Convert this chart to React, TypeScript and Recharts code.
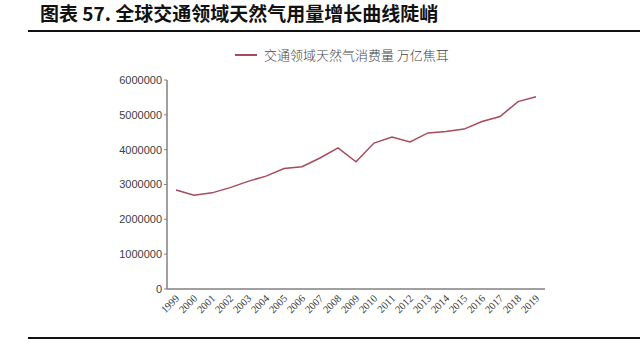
import { Line, LineChart, XAxis, YAxis } from "recharts";

const years = [
  "1999", "2000", "2001", "2002", "2003", "2004", "2005", "2006", "2007", "2008", "2009",
  "2010", "2011", "2012", "2013", "2014", "2015", "2016", "2017", "2018", "2019",
];
const consumption = [
  2840000, 2690000, 2760000, 2910000, 3090000, 3240000, 3460000, 3510000, 3760000, 4050000, 3650000,
  4190000, 4360000, 4220000, 4480000, 4520000, 4590000, 4810000, 4950000, 5380000, 5520000,
];
const yTicks = [0, 1000000, 2000000, 3000000, 4000000, 5000000, 6000000];

const TITLE = "图表 57. 全球交通领域天然气用量增长曲线陡峭";
const SERIES = "交通领域天然气消费量 万亿焦耳";
const LINE_COLOR = "#a84a5c";

const data = years.map((year, i) => ({ year, value: consumption[i] }));

function YearTick({ x, y, payload }: { x: number; y: number; payload: { value: string } }) {
  const ax = x + 4;
  const ay = y + 10;
  return (
    <text
      x={ax}
      y={ay}
      transform={`rotate(-45 ${ax} ${ay})`}
      textAnchor="end"
      fontSize={10.5}
      fontFamily="'Liberation Serif', serif"
      fill="#333"
    >
      {payload.value}
    </text>
  );
}

export default function App() {
  return (
    <div style={{ position: "absolute", left: 0, top: 0, width: 640, height: 344, background: "#fff", fontFamily: "'Noto Sans CJK SC', sans-serif" }}>
      <div style={{ position: "absolute", left: 40, top: 1, fontSize: 19, fontWeight: 700, color: "#111", lineHeight: "24px", whiteSpace: "nowrap" }}>
        {TITLE}
      </div>
      <div style={{ position: "absolute", left: 28, right: 0, top: 30, height: 2, background: "#111" }} />
      <div style={{ position: "absolute", left: 28, right: 0, top: 337, height: 2, background: "#111" }} />
      <div style={{ position: "absolute", left: 235, top: 46, display: "flex", alignItems: "center", whiteSpace: "nowrap" }}>
        <div style={{ width: 22, height: 1.5, background: LINE_COLOR, marginRight: 7 }} />
        <span style={{ fontSize: 13, fontWeight: 300, color: "#444", lineHeight: "18px" }}>{SERIES}</span>
      </div>
      <LineChart
        width={640}
        height={344}
        data={data}
        margin={{ top: 80, right: 95, bottom: 15, left: 107 }}
        style={{ position: "absolute", left: 0, top: 0 }}
      >
        <XAxis
          dataKey="year"
          interval={0}
          height={40}
          padding={{ left: 9, right: 9 }}
          tickLine={false}
          tickSize={0}
          tickMargin={0}
          axisLine={{ stroke: "#808080", strokeWidth: 1.5 }}
          tick={YearTick}
        />
        <YAxis
          width={60}
          domain={[0, 6000000]}
          ticks={yTicks}
          interval={0}
          tickSize={3}
          tickMargin={2}
          axisLine={{ stroke: "#808080", strokeWidth: 1.5 }}
          tickLine={{ stroke: "#808080" }}
          tick={{ fontSize: 11, fill: "#404040", fontFamily: "'Liberation Sans', sans-serif" }}
          tickFormatter={(v: number) => String(v)}
        />
        <Line
          dataKey="value"
          stroke={LINE_COLOR}
          strokeWidth={1.5}
          dot={false}
          type="linear"
          isAnimationActive={false}
        />
      </LineChart>
    </div>
  );
}
